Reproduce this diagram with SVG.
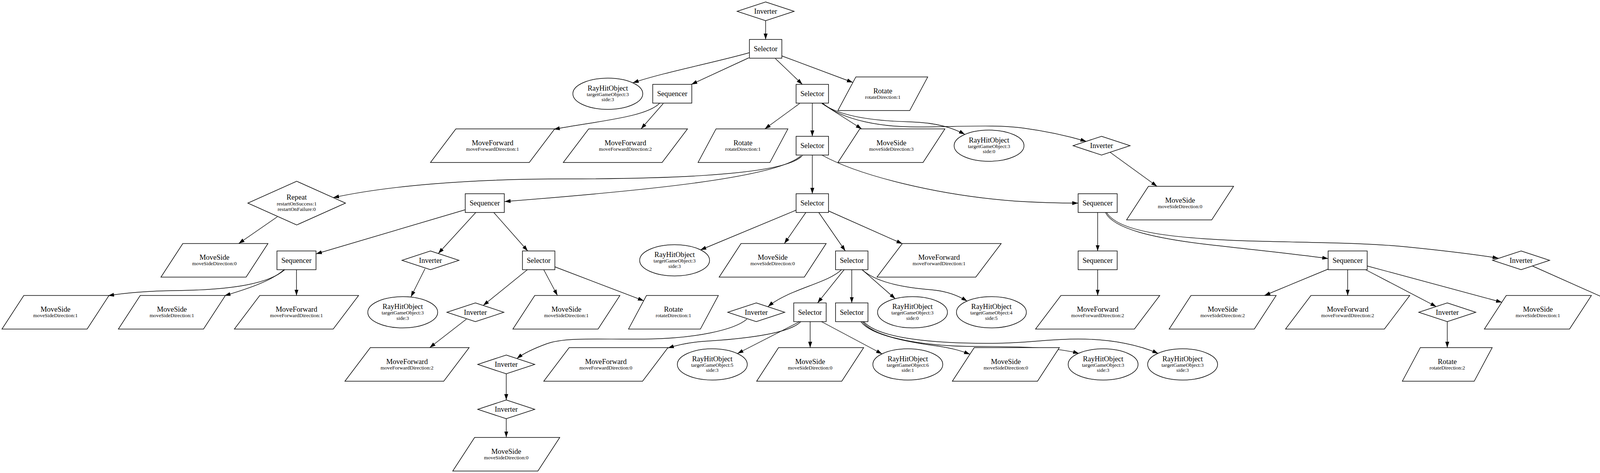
<svg xmlns="http://www.w3.org/2000/svg" xmlns:xlink="http://www.w3.org/1999/xlink" width="4284" height="1211" viewBox="0 0 4284 1211">
<style>
.sh{fill:#fff;stroke:#000;stroke-width:1.5}
text{font-family:"Liberation Serif","Times New Roman",serif;text-anchor:middle;fill:#000}
.b{font-size:18.67px}
.s{font-size:13.33px}
#edges path{fill:none;stroke:#000;stroke-width:1.4;marker-end:url(#arr)}
</style>
<defs>
<marker id="arr" markerUnits="userSpaceOnUse" markerWidth="16" markerHeight="12" refX="15" refY="6" orient="auto">
<path d="M0,1 L15,6 L0,11 z" fill="#000"/>
</marker>
<rect id="sel" class="sh" x="-41.5" y="-24" width="83" height="48"/>
<rect id="seq" class="sh" x="-50" y="-24" width="100" height="48"/>
<polygon id="inv" class="sh" points="0,-24 73,0 0,24 -73,0"/>
<polygon id="rep" class="sh" points="0,-56 125,0 0,56 -125,0"/>
<ellipse id="rho" class="sh" cx="0" cy="0" rx="89.5" ry="40"/>
<polygon id="mf" class="sh" points="-94,-43 159,-43 94,43 -159,43"/>
<polygon id="ms" class="sh" points="-81,-43 137,-43 81,43 -137,43"/>
<polygon id="rot" class="sh" points="-69,-43 115,-43 69,43 -115,43"/>
</defs>
<rect width="4284" height="1211" fill="#fff"/>
<g id="edges">
<path d="M1960,53 L1960,101"/>
<path d="M1918,135 C1830,160 1700,185 1620,212"/>
<path d="M1917,148 L1770,216"/>
<path d="M1985,150 L2054,216"/>
<path d="M2001,143 L2183,211"/>
<path d="M1689,264 C1655,300 1530,310 1418,331"/>
<path d="M1698,265 L1641,330"/>
<path d="M2047,265 L1958,330"/>
<path d="M2079.5,264 L2079.5,349"/>
<path d="M2104,265 L2206,330"/>
<path d="M2104,264 C2150,300 2250,310 2330,312 C2400,314 2440,328 2470,344"/>
<path d="M2106,264 C2160,310 2260,325 2347,325 C2450,325 2550,318 2620,328 C2680,336 2740,350 2781,362"/>
<path d="M2842,390 L2962,477"/>
<path d="M2054,398 C2020,440 1800,458 1450,458 C1200,458 990,476 853,506"/>
<path d="M2050,399 C1990,455 1650,488 1292,516"/>
<path d="M2079.5,397 L2079.5,496"/>
<path d="M2104,397 C2200,450 2400,500 2600,515 C2680,520 2720,520 2760,520"/>
<path d="M710,555 L611,623.5"/>
<path d="M1191,537 L809,650"/>
<path d="M1218,544 L1122,649"/>
<path d="M1264,544 L1351,642.5"/>
<path d="M2038,538 L1793,640"/>
<path d="M2063,544 L2008,623.5"/>
<path d="M2096,544 L2164,642.5"/>
<path d="M2121,540 L2310,624"/>
<path d="M2810,544 L2810,642.5"/>
<path d="M2830,544 C2850,585 2950,610 3100,627 C3250,644 3330,652 3400,662"/>
<path d="M2833,544 C2860,590 2980,610 3200,617 C3400,622 3500,622 3600,632 C3700,642 3780,652 3836,661"/>
<path d="M729,690.5 C690,725 600,742 450,744 C380,745 320,750 277,757"/>
<path d="M727,690.5 C700,715 650,735 575,757"/>
<path d="M759,690.5 L759,756.5"/>
<path d="M1088,688 L1052,760"/>
<path d="M1350,690.5 L1237,782"/>
<path d="M1392,690.5 L1427,756.5"/>
<path d="M1420,683 L1648,770"/>
<path d="M1194,817 L1100,890"/>
<path d="M2154,690.5 C2120,725 2020,740 1966,785"/>
<path d="M2161,690.5 L2093,775.5"/>
<path d="M2180.5,690.5 L2180.5,775.5"/>
<path d="M2207,690.5 L2292,765"/>
<path d="M2207,690.5 C2240,720 2300,735 2385,742 C2420,745 2450,755 2476,771"/>
<path d="M1912,817 C1880,845 1780,866 1660,868 C1540,870 1450,862 1400,880 C1370,891 1340,905 1323,918"/>
<path d="M1296,957 L1296,1024"/>
<path d="M1296,1072 L1296,1119.5"/>
<path d="M2050,823.5 C2020,855 1900,868 1800,874 C1760,877 1735,883 1710,891"/>
<path d="M2047,823.5 L1888,905"/>
<path d="M2074,823.5 L2074,890"/>
<path d="M2103,823.5 L2258,906"/>
<path d="M2204,823.5 C2230,860 2340,878 2400,886 C2440,892 2460,898 2483,907"/>
<path d="M2208,823.5 C2240,868 2380,887 2500,887 C2620,887 2710,890 2762,905"/>
<path d="M2211,823.5 C2250,868 2400,880 2541,879 C2640,878 2680,868 2760,868 C2850,868 2920,885 2965,905"/>
<path d="M2810,690.5 L2810,756.5"/>
<path d="M3400,689 L3237,756.5"/>
<path d="M3450,690.5 L3450,756.5"/>
<path d="M3496,690.5 L3677,785"/>
<path d="M3500,681 L3845,774"/>
<path d="M3705,823.5 L3705,890"/>
<path d="M3923,681 L4125,771"/>
</g>
<g id="n0"><use xlink:href="#inv" x="1960" y="29"/><text class="b" x="1960" y="35">Inverter</text></g>
<g id="n1"><use xlink:href="#sel" x="1960" y="125"/><text class="b" x="1960" y="131">Selector</text></g>
<g id="n2"><use xlink:href="#rho" x="1556" y="240"/><text class="b" x="1556" y="231.5">RayHitObject</text><text class="s" x="1556" y="245.5">targetGameObject:3</text><text class="s" x="1556" y="259">side:3</text></g>
<g id="n3"><use xlink:href="#seq" x="1721" y="240"/><text class="b" x="1721" y="246">Sequencer</text></g>
<g id="n4"><use xlink:href="#sel" x="2079.5" y="240"/><text class="b" x="2079.5" y="246">Selector</text></g>
<g id="n5"><use xlink:href="#rot" x="2260" y="240"/><text class="b" x="2260" y="238.5">Rotate</text><text class="s" x="2260" y="252.5">rotateDirection:1</text></g>
<g id="n6"><use xlink:href="#mf" x="1261" y="373"/><text class="b" x="1261" y="371.5">MoveForward</text><text class="s" x="1261" y="385.5">moveForwardDirection:1</text></g>
<g id="n7"><use xlink:href="#mf" x="1601" y="373"/><text class="b" x="1601" y="371.5">MoveForward</text><text class="s" x="1601" y="385.5">moveForwardDirection:2</text></g>
<g id="n8"><use xlink:href="#rot" x="1902" y="373"/><text class="b" x="1902" y="371.5">Rotate</text><text class="s" x="1902" y="385.5">rotateDirection:1</text></g>
<g id="n9"><use xlink:href="#sel" x="2079.5" y="373"/><text class="b" x="2079.5" y="379">Selector</text></g>
<g id="n10"><use xlink:href="#ms" x="2282" y="373"/><text class="b" x="2282" y="371.5">MoveSide</text><text class="s" x="2282" y="385.5">moveSideDirection:3</text></g>
<g id="n11"><use xlink:href="#rho" x="2532" y="373"/><text class="b" x="2532" y="364.5">RayHitObject</text><text class="s" x="2532" y="378.5">targetGameObject:3</text><text class="s" x="2532" y="392">side:0</text></g>
<g id="n12"><use xlink:href="#inv" x="2820" y="373"/><text class="b" x="2820" y="379">Inverter</text></g>
<g id="n13"><use xlink:href="#rep" x="759.5" y="520"/><text class="b" x="759.5" y="511">Repeat</text><text class="s" x="759.5" y="525.5">restartOnSuccess:1</text><text class="s" x="759.5" y="539.5">restartOnFailure:0</text></g>
<g id="n14"><use xlink:href="#seq" x="1241" y="520"/><text class="b" x="1241" y="526">Sequencer</text></g>
<g id="n15"><use xlink:href="#sel" x="2079.5" y="520"/><text class="b" x="2079.5" y="526">Selector</text></g>
<g id="n16"><use xlink:href="#seq" x="2810" y="520"/><text class="b" x="2810" y="526">Sequencer</text></g>
<g id="n17"><use xlink:href="#ms" x="3021" y="520"/><text class="b" x="3021" y="518.5">MoveSide</text><text class="s" x="3021" y="532.5">moveSideDirection:0</text></g>
<g id="n18"><use xlink:href="#ms" x="549" y="666.5"/><text class="b" x="549" y="665">MoveSide</text><text class="s" x="549" y="679">moveSideDirection:0</text></g>
<g id="n19"><use xlink:href="#seq" x="759" y="666.5"/><text class="b" x="759" y="672.5">Sequencer</text></g>
<g id="n20"><use xlink:href="#inv" x="1102" y="666.5"/><text class="b" x="1102" y="672.5">Inverter</text></g>
<g id="n21"><use xlink:href="#sel" x="1379" y="666.5"/><text class="b" x="1379" y="672.5">Selector</text></g>
<g id="n22"><use xlink:href="#rho" x="1727" y="666.5"/><text class="b" x="1727" y="658">RayHitObject</text><text class="s" x="1727" y="672">targetGameObject:3</text><text class="s" x="1727" y="685.5">side:3</text></g>
<g id="n23"><use xlink:href="#ms" x="1978" y="666.5"/><text class="b" x="1978" y="665">MoveSide</text><text class="s" x="1978" y="679">moveSideDirection:0</text></g>
<g id="n24"><use xlink:href="#sel" x="2180.5" y="666.5"/><text class="b" x="2180.5" y="672.5">Selector</text></g>
<g id="n25"><use xlink:href="#mf" x="2404" y="666.5"/><text class="b" x="2404" y="665">MoveForward</text><text class="s" x="2404" y="679">moveForwardDirection:1</text></g>
<g id="n26"><use xlink:href="#seq" x="2810" y="666.5"/><text class="b" x="2810" y="672.5">Sequencer</text></g>
<g id="n27"><use xlink:href="#seq" x="3450" y="666.5"/><text class="b" x="3450" y="672.5">Sequencer</text></g>
<g id="n28"><use xlink:href="#inv" x="3894" y="666.5"/><text class="b" x="3894" y="672.5">Inverter</text></g>
<g id="n29"><use xlink:href="#ms" x="142" y="799.5"/><text class="b" x="142" y="798">MoveSide</text><text class="s" x="142" y="812">moveSideDirection:1</text></g>
<g id="n30"><use xlink:href="#ms" x="440" y="799.5"/><text class="b" x="440" y="798">MoveSide</text><text class="s" x="440" y="812">moveSideDirection:1</text></g>
<g id="n31"><use xlink:href="#mf" x="759" y="799.5"/><text class="b" x="759" y="798">MoveForward</text><text class="s" x="759" y="812">moveForwardDirection:1</text></g>
<g id="n32"><use xlink:href="#rho" x="1031" y="799.5"/><text class="b" x="1031" y="791">RayHitObject</text><text class="s" x="1031" y="805">targetGameObject:3</text><text class="s" x="1031" y="818.5">side:3</text></g>
<g id="n33"><use xlink:href="#inv" x="1217" y="799.5"/><text class="b" x="1217" y="805.5">Inverter</text></g>
<g id="n34"><use xlink:href="#ms" x="1450" y="799.5"/><text class="b" x="1450" y="798">MoveSide</text><text class="s" x="1450" y="812">moveSideDirection:1</text></g>
<g id="n35"><use xlink:href="#rot" x="1724" y="799.5"/><text class="b" x="1724" y="798">Rotate</text><text class="s" x="1724" y="812">rotateDirection:1</text></g>
<g id="n36"><use xlink:href="#inv" x="1936" y="799.5"/><text class="b" x="1936" y="805.5">Inverter</text></g>
<g id="n37"><use xlink:href="#sel" x="2073.5" y="799.5"/><text class="b" x="2073.5" y="805.5">Selector</text></g>
<g id="n38"><use xlink:href="#sel" x="2180.5" y="799.5"/><text class="b" x="2180.5" y="805.5">Selector</text></g>
<g id="n39"><use xlink:href="#rho" x="2336" y="799.5"/><text class="b" x="2336" y="791">RayHitObject</text><text class="s" x="2336" y="805">targetGameObject:3</text><text class="s" x="2336" y="818.5">side:0</text></g>
<g id="n40"><use xlink:href="#rho" x="2538" y="799.5"/><text class="b" x="2538" y="791">RayHitObject</text><text class="s" x="2538" y="805">targetGameObject:4</text><text class="s" x="2538" y="818.5">side:5</text></g>
<g id="n41"><use xlink:href="#mf" x="2810" y="799.5"/><text class="b" x="2810" y="798">MoveForward</text><text class="s" x="2810" y="812">moveForwardDirection:2</text></g>
<g id="n42"><use xlink:href="#ms" x="3130" y="799.5"/><text class="b" x="3130" y="798">MoveSide</text><text class="s" x="3130" y="812">moveSideDirection:2</text></g>
<g id="n43"><use xlink:href="#mf" x="3450" y="799.5"/><text class="b" x="3450" y="798">MoveForward</text><text class="s" x="3450" y="812">moveForwardDirection:2</text></g>
<g id="n44"><use xlink:href="#inv" x="3705" y="799.5"/><text class="b" x="3705" y="805.5">Inverter</text></g>
<g id="n45"><use xlink:href="#ms" x="3937" y="799.5"/><text class="b" x="3937" y="798">MoveSide</text><text class="s" x="3937" y="812">moveSideDirection:1</text></g>
<g id="n46"><use xlink:href="#rho" x="4189" y="799.5"/><text class="b" x="4189" y="791">RayHitObject</text><text class="s" x="4189" y="805">targetGameObject:4</text><text class="s" x="4189" y="818.5">side:4</text></g>
<g id="n47"><use xlink:href="#mf" x="1042" y="933"/><text class="b" x="1042" y="931.5">MoveForward</text><text class="s" x="1042" y="945.5">moveForwardDirection:2</text></g>
<g id="n48"><use xlink:href="#inv" x="1296" y="933"/><text class="b" x="1296" y="939">Inverter</text></g>
<g id="n49"><use xlink:href="#mf" x="1551" y="933"/><text class="b" x="1551" y="931.5">MoveForward</text><text class="s" x="1551" y="945.5">moveForwardDirection:0</text></g>
<g id="n50"><use xlink:href="#rho" x="1823.5" y="933"/><text class="b" x="1823.5" y="924.5">RayHitObject</text><text class="s" x="1823.5" y="938.5">targetGameObject:5</text><text class="s" x="1823.5" y="952">side:3</text></g>
<g id="n51"><use xlink:href="#ms" x="2074" y="933"/><text class="b" x="2074" y="931.5">MoveSide</text><text class="s" x="2074" y="945.5">moveSideDirection:0</text></g>
<g id="n52"><use xlink:href="#rho" x="2324" y="933"/><text class="b" x="2324" y="924.5">RayHitObject</text><text class="s" x="2324" y="938.5">targetGameObject:6</text><text class="s" x="2324" y="952">side:1</text></g>
<g id="n53"><use xlink:href="#ms" x="2575" y="933"/><text class="b" x="2575" y="931.5">MoveSide</text><text class="s" x="2575" y="945.5">moveSideDirection:0</text></g>
<g id="n54"><use xlink:href="#rho" x="2824" y="933"/><text class="b" x="2824" y="924.5">RayHitObject</text><text class="s" x="2824" y="938.5">targetGameObject:3</text><text class="s" x="2824" y="952">side:3</text></g>
<g id="n55"><use xlink:href="#rho" x="3027.5" y="933"/><text class="b" x="3027.5" y="924.5">RayHitObject</text><text class="s" x="3027.5" y="938.5">targetGameObject:3</text><text class="s" x="3027.5" y="952">side:3</text></g>
<g id="n56"><use xlink:href="#rot" x="3705" y="933"/><text class="b" x="3705" y="931.5">Rotate</text><text class="s" x="3705" y="945.5">rotateDirection:2</text></g>
<g id="n57"><use xlink:href="#inv" x="1296" y="1048"/><text class="b" x="1296" y="1054">Inverter</text></g>
<g id="n58"><use xlink:href="#ms" x="1296" y="1163"/><text class="b" x="1296" y="1161.5">MoveSide</text><text class="s" x="1296" y="1175.5">moveSideDirection:0</text></g>
</svg>
